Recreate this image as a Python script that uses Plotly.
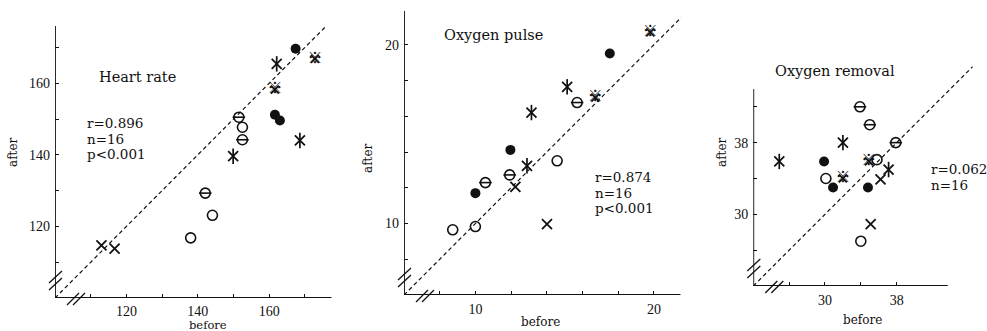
import plotly.graph_objects as go

W, H = 987, 331

# ---------------- data ----------------
# marker groups: F=filled circle, O=open circle, T=circle with bar, X=cross,
# S=cross with vertical stroke, R=reference mark
hr_group  = ["F", "R", "S", "R", "F", "F", "T", "O", "T", "S", "S", "T", "O", "O", "X", "X"]
hr_before = [167.4, 172.8, 162.1, 161.6, 161.6, 163.0, 151.5, 152.5, 152.5, 168.6, 149.9, 142.1, 144.1, 138.0, 113.0, 116.7]
hr_after  = [169.6, 166.8, 165.4, 158.2, 151.2, 149.6, 150.5, 147.7, 144.2, 144.0, 139.6, 129.3, 123.1, 116.8, 114.7, 113.8]

op_group  = ["R", "F", "S", "R", "T", "S", "F", "O", "S", "T", "T", "X", "F", "X", "O", "O"]
op_before = [19.8, 17.53, 15.14, 16.72, 15.70, 13.14, 11.96, 14.58, 12.89, 11.92, 10.56, 12.24, 10.0, 14.01, 10.0, 8.73]
op_after  = [20.69, 19.51, 17.65, 17.05, 16.77, 16.21, 14.12, 13.51, 13.23, 12.72, 12.29, 12.05, 11.70, 9.96, 9.83, 9.65]

or_group  = ["T", "T", "S", "T", "S", "F", "R", "O", "S", "O", "R", "F", "F", "X", "X", "O"]
or_before = [33.9, 35.0, 32.0, 37.9, 24.9, 29.9, 34.9, 35.8, 37.1, 30.1, 32.0, 30.9, 34.8, 36.2, 35.1, 34.0]
or_after  = [42.0, 40.0, 38.0, 38.0, 35.9, 35.9, 35.9, 36.1, 35.0, 34.0, 34.0, 33.0, 33.0, 33.9, 28.9, 27.0]

titles = ["Heart rate", "Oxygen pulse", "Oxygen removal"]
stats = [["r=0.896", "n=16", "p<0.001"], ["r=0.874", "n=16", "p<0.001"], ["r=0.062", "n=16"]]

hr_ticks = [110, 120, 130, 140, 150, 160, 170]
hr_labels = ["", "120", "", "140", "", "160", ""]
op_ticks = [8, 10, 12, 14, 16, 18, 20]
op_labels = ["", "10", "", "", "", "", "20"]
or_ticks = [26, 30, 34, 38]
or_labels = ["", "30", "", "38"]
or_yticks = [26, 30, 34, 38, 42]
or_ylabels = ["", "30", "", "38", ""]

# ---------------- layout geometry (pixels) ----------------
panels = [
    dict(x0=55, sx=3.57, xr=[100, 177.5], y0=298, sy=3.58, yr=[100, 176],
         xt=hr_ticks, xl=hr_labels, yt=hr_ticks, yl=hr_labels,
         axx=177.5, axy=176, title=(97, 77), st=(85, 123), after=(13, 152), before=(208, 325)),
    dict(x0=404, sx=17.85, xr=[6, 21.5], y0=295, sy=17.87, yr=[6, 21.9],
         xt=op_ticks, xl=op_labels, yt=op_ticks, yl=op_labels,
         axx=21.5, axy=21.9, title=(442, 35), st=(593, 177), after=(368, 158), before=(540, 322)),
    dict(x0=753.3, sx=8.96, xr=[22, 46.5], y0=286, sy=8.96, yr=[22, 46.5],
         xt=or_ticks, xl=or_labels, yt=or_yticks, yl=or_ylabels,
         axx=43.7, axy=44, title=(773, 71), st=(929, 169), after=(722, 152), before=(862, 320)),
]
data = [(hr_before, hr_after, hr_group), (op_before, op_after, op_group), (or_before, or_after, or_group)]

INK = "#111111"
fig = go.Figure()
layout = {}
shapes = []
annotations = []


def px(xp, yp):
    return xp / W, 1 - yp / H


for i, (p, (bx, ay, grp)) in enumerate(zip(panels, data)):
    n = "" if i == 0 else str(i + 1)
    xa, ya = "x" + n, "y" + n
    x1px = p["x0"] + (p["xr"][1] - p["xr"][0]) * p["sx"]
    y1px = p["y0"] - (p["yr"][1] - p["yr"][0]) * p["sy"]
    axis_common = dict(showgrid=False, zeroline=False, showline=False, ticks="inside",
                       ticklen=4, tickwidth=1.3, tickcolor=INK,
                       tickfont=dict(family="Liberation Serif", size=14, color=INK),
                       ticklabelstandoff=4)
    layout["xaxis" + n] = dict(axis_common, domain=[p["x0"] / W, x1px / W], range=p["xr"],
                               tickvals=p["xt"], ticktext=p["xl"], anchor=ya,
                               ticklabelstandoff=3 if i == 0 else 4)
    layout["yaxis" + n] = dict(axis_common, domain=[1 - p["y0"] / H, 1 - y1px / H], range=p["yr"],
                               tickvals=p["yt"], ticktext=p["yl"], anchor=xa)

    # axis lines
    shapes.append(dict(type="line", xref=xa, yref=ya, x0=p["xr"][0], y0=p["yr"][0], x1=p["axx"], y1=p["yr"][0],
                       line=dict(color=INK, width=1.8)))
    shapes.append(dict(type="line", xref=xa, yref=ya, x0=p["xr"][0], y0=p["yr"][0], x1=p["xr"][0], y1=p["axy"],
                       line=dict(color=INK, width=1.8)))
    # break marks "//" on both axes
    ox, oy = p["x0"], p["y0"]
    for dx in (13, 19):
        a = px(ox + dx - 1, oy + 7)
        b = px(ox + dx + 11, oy - 5)
        shapes.append(dict(type="line", xref="paper", yref="paper", x0=a[0], y0=a[1], x1=b[0], y1=b[1],
                           line=dict(color=INK, width=1.3)))
    for dy in (14, 21):
        a = px(ox - 6, oy - dy + 6)
        b = px(ox + 7, oy - dy - 6)
        shapes.append(dict(type="line", xref="paper", yref="paper", x0=a[0], y0=a[1], x1=b[0], y1=b[1],
                           line=dict(color=INK, width=1.3)))

    # identity line
    lo = min(p["xr"][0], p["yr"][0])
    hi = max(p["xr"][1], p["yr"][1])
    fig.add_trace(go.Scatter(x=[lo, hi], y=[lo, hi], mode="lines", xaxis=xa, yaxis=ya,
                             line=dict(color=INK, width=1.2, dash="4px,3px"), hoverinfo="skip"))

    # points by group
    def sel(g):
        xs = [x for x, gg in zip(bx, grp) if gg == g]
        ys = [y for y, gg in zip(ay, grp) if gg == g]
        return xs, ys

    xs, ys = sel("F")
    fig.add_trace(go.Scatter(x=xs, y=ys, mode="markers", xaxis=xa, yaxis=ya, cliponaxis=False,
                             marker=dict(symbol="circle", size=10, color=INK)))
    for g in ("O", "T"):
        xs, ys = sel(g)
        fig.add_trace(go.Scatter(x=xs, y=ys, mode="markers", xaxis=xa, yaxis=ya, cliponaxis=False,
                                 marker=dict(symbol="circle-open", size=10, color=INK, line=dict(width=1.6))))
    xs, ys = sel("T")
    fig.add_trace(go.Scatter(x=xs, y=ys, mode="markers", xaxis=xa, yaxis=ya, cliponaxis=False,
                             marker=dict(symbol="line-ew-open", size=9, color=INK, line=dict(width=1.6))))
    for g in ("X", "S", "R"):
        xs, ys = sel(g)
        fig.add_trace(go.Scatter(x=xs, y=ys, mode="markers", xaxis=xa, yaxis=ya, cliponaxis=False,
                                 marker=dict(symbol="x-thin-open", size=10 if g != "R" else 8,
                                             color=INK, line=dict(width=1.8))))
    xs, ys = sel("S")
    fig.add_trace(go.Scatter(x=xs, y=ys, mode="markers", xaxis=xa, yaxis=ya, cliponaxis=False,
                             marker=dict(symbol="line-ns-open", size=11, color=INK, line=dict(width=1.7))))
    xs, ys = sel("R")
    fig.add_trace(go.Scatter(x=xs, y=ys, mode="text", xaxis=xa, yaxis=ya, cliponaxis=False,
                             text=["※"] * len(xs), textposition="middle center",
                             textfont=dict(family="Noto Sans CJK JP", size=15, color=INK, weight="bold")))

    # texts
    tx, ty = px(*p["title"])
    annotations.append(dict(text=titles[i], x=tx, y=ty, xref="paper", yref="paper", showarrow=False,
                            xanchor="left", yanchor="middle",
                            font=dict(family="DejaVu Serif", size=14.5, color=INK)))
    for k, s in enumerate(stats[i]):
        sx_, sy_ = px(p["st"][0], p["st"][1] + 15.5 * k)
        annotations.append(dict(text=s, x=sx_, y=sy_, xref="paper", yref="paper", showarrow=False,
                                xanchor="left", yanchor="middle",
                                font=dict(family="DejaVu Serif", size=13.5, color=INK)))
    ax_, ay_ = px(*p["after"])
    annotations.append(dict(text="after", x=ax_, y=ay_, xref="paper", yref="paper", showarrow=False,
                            textangle=-90, xanchor="center", yanchor="middle",
                            font=dict(family="DejaVu Serif", size=12, color=INK)))
    bx_, by_ = px(*p["before"])
    annotations.append(dict(text="before", x=bx_, y=by_, xref="paper", yref="paper", showarrow=False,
                            xanchor="center", yanchor="middle",
                            font=dict(family="DejaVu Serif", size=11.5 if i == 0 else 12, color=INK)))

fig.update_layout(
    width=W, height=H, margin=dict(l=0, r=0, t=0, b=0),
    paper_bgcolor="white", plot_bgcolor="rgba(0,0,0,0)",
    showlegend=False, shapes=shapes, annotations=annotations, **layout,
)
fig.write_html("out.html")
